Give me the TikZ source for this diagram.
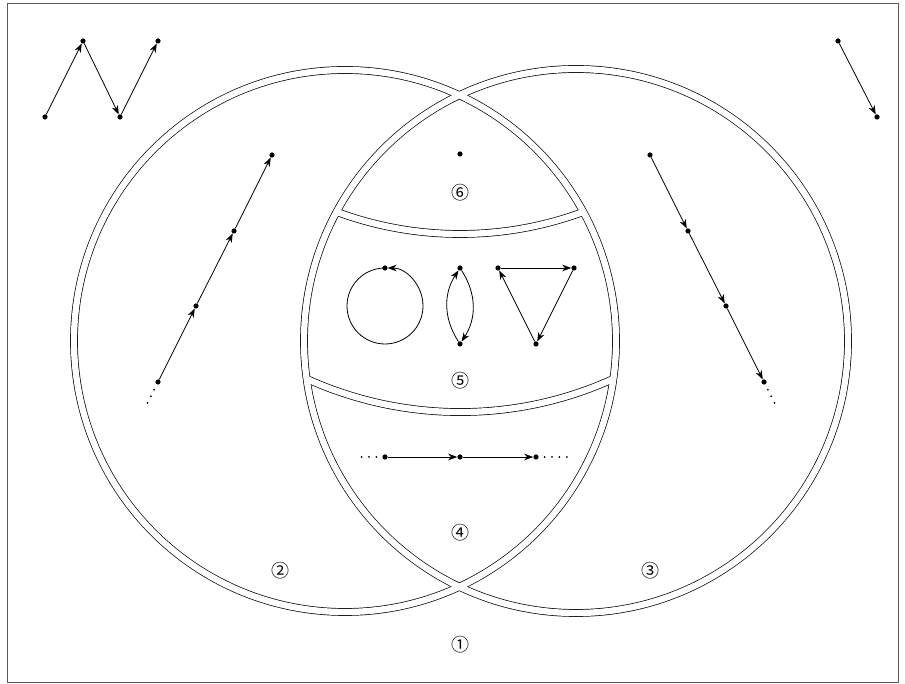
\documentclass[tikz,border=0pt]{standalone}
\usepackage{fontspec}
\newfontfamily\cjk{Noto Sans CJK JP}
\usetikzlibrary{arrows.meta}
\begin{document}
\begin{tikzpicture}[x=1pt,y=1pt,
  dot/.style={circle,fill=black,inner sep=0pt,minimum size=5.2pt},
  arr/.style={-{Stealth[length=9pt,width=6.6pt,inset=2.8pt]},line width=0.8pt},
  cont/.style={line width=2pt,line cap=round,dash pattern=on 0pt off 7.4pt,shorten <=5.8pt},
  lbl/.style={font=\cjk\fontsize{18}{18}\selectfont,inner sep=0pt},
  bk/.style={black,line width=7.7pt},
  wt/.style={white,line width=6.3pt},
  frame/.style={draw=black!65,line width=1pt}]
\useasboundingbox (0,0) rectangle (905,684);
\draw[frame] (7,1) rectangle (898,680);
% region outlines (double lines)
\coordinate (CA) at (345,343);
\coordinate (CB) at (576,343);
\draw[bk] (CA) circle[radius=271];
\draw[bk] (CB) circle[radius=272];
\begin{scope}
  \clip (CA) circle[radius=271];
  \clip (CB) circle[radius=272];
  \draw[bk] (460,804.8) ++(234:354.8) arc[start angle=234,end angle=306,radius=354.8];
  \draw[bk] (460,643.2) ++(210:371.2) arc[start angle=210,end angle=330,radius=371.2];
\end{scope}
\draw[wt] (CA) circle[radius=271];
\draw[wt] (CB) circle[radius=272];
\begin{scope}
  \clip (CA) circle[radius=271];
  \clip (CB) circle[radius=272];
  \draw[wt] (460,804.8) ++(234:354.8) arc[start angle=234,end angle=306,radius=354.8];
  \draw[wt] (460,643.2) ++(210:371.2) arc[start angle=210,end angle=330,radius=371.2];
\end{scope}
% top-left zigzag
\node[dot] (z1) at (45,567) {};
\node[dot] (z2) at (83,643) {};
\node[dot] (z3) at (120,567) {};
\node[dot] (z4) at (158,643) {};
\draw[arr] (z1) -- (z2);
\draw[arr] (z2) -- (z3);
\draw[arr] (z3) -- (z4);
% top-right
\node[dot] (r1) at (838,643) {};
\node[dot] (r2) at (877,567) {};
\draw[arr] (r1) -- (r2);
% left chain
\node[dot] (a1) at (158,302) {};
\node[dot] (a2) at (196,378) {};
\node[dot] (a3) at (234,453) {};
\node[dot] (a4) at (272,529) {};
\coordinate (a0) at (144.3,274.7);
\draw[arr] (a1) -- (a2);
\draw[arr] (a2) -- (a3);
\draw[arr] (a3) -- (a4);
\draw[cont] (a1) -- (a0);
% right chain
\node[dot] (b1) at (650,529) {};
\node[dot] (b2) at (688,453) {};
\node[dot] (b3) at (726,378) {};
\node[dot] (b4) at (764,302) {};
\coordinate (b5) at (777.7,274.7);
\draw[arr] (b1) -- (b2);
\draw[arr] (b2) -- (b3);
\draw[arr] (b3) -- (b4);
\draw[cont] (b4) -- (b5);
% region 6
\node[dot] (s1) at (460,530) {};
% region 5: loop
\node[dot] (l1) at (385,416) {};
\draw[arr,shorten >=2.6pt] (l1.center) arc[start angle=90,end angle=450,radius=38];
% digon
\node[dot] (d1) at (460,416) {};
\node[dot] (d2) at (460,340) {};
\draw[arr] (d2) to[bend left=33] (d1);
\draw[arr] (d1) to[bend left=33] (d2);
% triangle
\node[dot] (t1) at (498,416) {};
\node[dot] (t2) at (574,416) {};
\node[dot] (t3) at (536,340) {};
\draw[arr] (t1) -- (t2);
\draw[arr] (t2) -- (t3);
\draw[arr] (t3) -- (t1);
% region 4: line
\node[dot] (h1) at (385,227) {};
\node[dot] (h2) at (460,227) {};
\node[dot] (h3) at (536,227) {};
\coordinate (h0) at (355,227);
\coordinate (h4) at (567,227);
\draw[arr] (h1) -- (h2);
\draw[arr] (h2) -- (h3);
\draw[cont] (h1) -- (h0);
\draw[cont] (h3) -- (h4);
% labels
\node[lbl] (n1) at (460,39) {①};
\node[lbl] (n2) at (280,113) {②};
\node[lbl] (n3) at (650,113) {③};
\node[lbl] (n4) at (460,151) {④};
\node[lbl] (n5) at (460,303) {⑤};
\node[lbl] (n6) at (460,491) {⑥};
\end{tikzpicture}
\end{document}
